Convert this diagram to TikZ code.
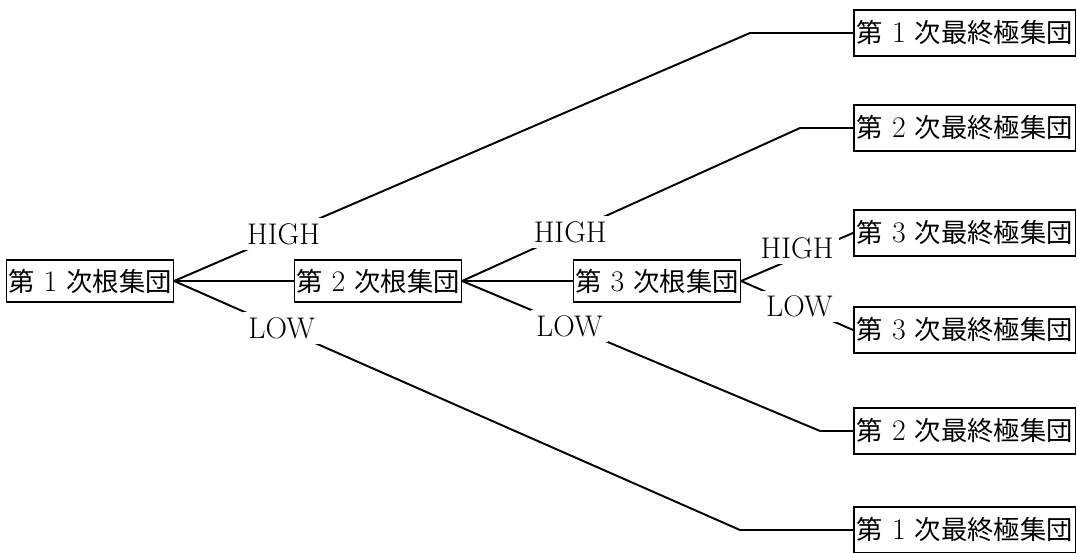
\documentclass[tikz,border=0pt]{standalone}
\usepackage{fontspec}
\newfontfamily\cjk[Scale=0.88]{Noto Sans CJK JP}
\begin{document}
\begin{tikzpicture}[x=0.02cm, y=-0.02cm,
  every node/.style={font=\fontsize{17}{20}\selectfont},
  rootbox/.style={draw, line width=0.85pt, minimum width=3.3cm, minimum height=0.84cm, inner sep=1pt},
  leafbox/.style={draw, line width=0.85pt, anchor=west, minimum width=4.44cm, minimum height=0.92cm, inner sep=1pt},
  lbl/.style={fill=white, inner sep=3pt},
  branch/.style={line width=1.1pt}]
\useasboundingbox (0,0) rectangle (1077,553);
% root groups
\node[rootbox] (r1) at (90,281) {{\cjk 第} 1 {\cjk 次根集団}};
\node[rootbox] (r2) at (378,281) {{\cjk 第} 2 {\cjk 次根集団}};
\node[rootbox] (r3) at (657,281) {{\cjk 第} 3 {\cjk 次根集団}};
% final groups
\node[leafbox] (f1) at (853,33) {{\cjk 第} 1 {\cjk 次最終極集団}};
\node[leafbox] (f2) at (853,128) {{\cjk 第} 2 {\cjk 次最終極集団}};
\node[leafbox] (f3) at (853,233) {{\cjk 第} 3 {\cjk 次最終極集団}};
\node[leafbox] (f4) at (853,330) {{\cjk 第} 3 {\cjk 次最終極集団}};
\node[leafbox] (f5) at (853,431) {{\cjk 第} 2 {\cjk 次最終極集団}};
\node[leafbox] (f6) at (853,530) {{\cjk 第} 1 {\cjk 次最終極集団}};
% bends
\coordinate (b1) at (750,33);
\coordinate (b2) at (800,128);
\coordinate (b5) at (820,431);
\coordinate (b6) at (740,530);
% branches
\draw[branch] (r1.east) -- (r2.west);
\draw[branch] (r2.east) -- (r3.west);
\draw[branch] (r1.east) -- node[lbl, pos=.19] (h1) {HIGH} (b1) -- (f1.west);
\draw[branch] (r1.east) -- node[lbl, pos=.19] (l1) {LOW} (b6) -- (f6.west);
\draw[branch] (r2.east) -- node[lbl, pos=.32] (h2) {HIGH} (b2) -- (f2.west);
\draw[branch] (r2.east) -- node[lbl, pos=.30] (l2) {LOW} (b5) -- (f5.west);
\draw[branch] (r3.east) -- node[lbl, pos=.5, yshift=5pt] (h3) {HIGH} (f3.west);
\draw[branch] (r3.east) -- node[lbl, pos=.52] (l3) {LOW} (f4.west);
\end{tikzpicture}
\end{document}
